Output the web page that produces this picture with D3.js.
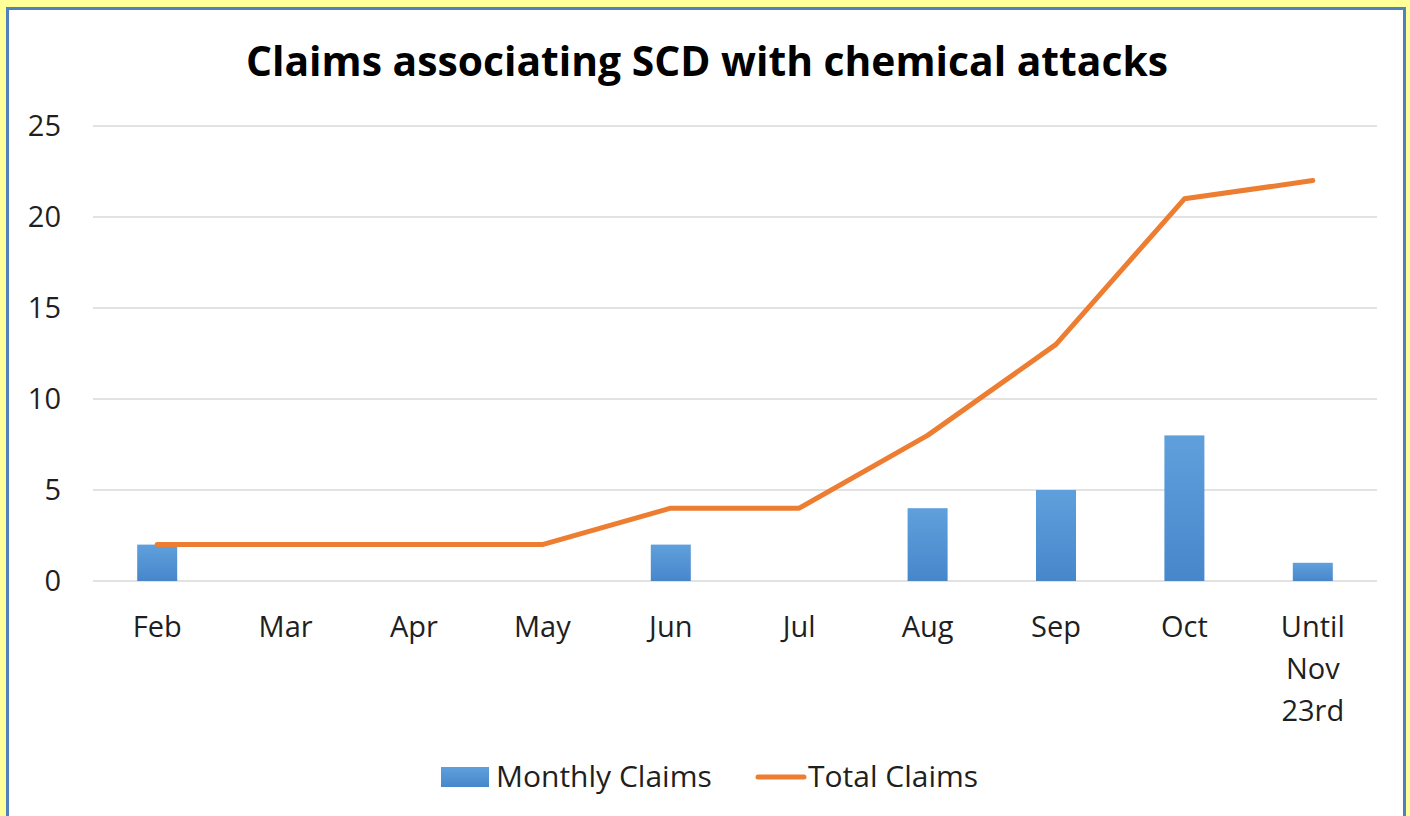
<!DOCTYPE html>
<html lang="en">
    <head>
        <meta charset="utf-8">
        <style>
            body { margin: 0; background: #ffff99; }
            .grid line { stroke: #d9d9d9; stroke-width: 1.5; }
            .axis text { font-family: "Open Sans", sans-serif; font-size: 29px; fill: #1f1f1f; }
        </style>
        <script src="https://d3js.org/d3.v7.min.js"></script>
    </head>
    <body>
        <svg width="1410" height="816"></svg>
        <script>
            // data
            var months = ["Feb", "Mar", "Apr", "May", "Jun", "Jul", "Aug", "Sep", "Oct", "Until Nov 23rd"];
            var monthlyClaims = [2, 0, 0, 0, 2, 0, 4, 5, 8, 1];
            var totalClaims = [2, 2, 2, 2, 4, 4, 8, 13, 21, 22];
            var yTicks = [0, 5, 10, 15, 20, 25];

            var svg = d3.select("svg");

            // white panel with blue frame
            svg.append("rect")
                .attr("x", 7.5).attr("y", 8.5)
                .attr("width", 1397).attr("height", 820)
                .attr("fill", "#fff")
                .attr("stroke", "#4f81bd")
                .attr("stroke-width", 3);

            var x = d3.scaleBand()
                .domain(months)
                .range([93, 1377]);

            var y = d3.scaleLinear()
                .domain([0, 25])
                .range([581, 126]);

            // gridlines
            svg.append("g")
                .attr("class", "grid")
                .selectAll("line")
                .data(yTicks)
                .enter()
                .append("line")
                    .attr("x1", 93).attr("x2", 1377)
                    .attr("y1", function(d) { return y(d); })
                    .attr("y2", function(d) { return y(d); });

            // y labels
            svg.append("g")
                .attr("class", "axis")
                .selectAll("text")
                .data(yTicks)
                .enter()
                .append("text")
                    .attr("x", 61)
                    .attr("y", function(d) { return y(d); })
                    .attr("dy", "0.36em")
                    .attr("text-anchor", "end")
                    .text(function(d) { return d; });

            // x labels (wrapped like the original)
            var xl = svg.append("g")
                .attr("class", "axis")
                .selectAll("text")
                .data(months)
                .enter()
                .append("text")
                    .attr("text-anchor", "middle")
                    .attr("x", function(d) { return x(d) + x.bandwidth() / 2; })
                    .attr("y", 637);
            xl.each(function(d) {
                var words = d.split(" ");
                var t = d3.select(this);
                words.forEach(function(w, i) {
                    t.append("tspan")
                        .attr("x", x(d) + x.bandwidth() / 2)
                        .attr("dy", i == 0 ? 0 : 42)
                        .text(w);
                });
            });

            // gradient for the bars
            var grad = svg.append("defs").append("linearGradient")
                .attr("id", "barGrad")
                .attr("x1", 0).attr("y1", 0).attr("x2", 0).attr("y2", 1);
            grad.append("stop").attr("offset", "0%").attr("stop-color", "#5fa0dc");
            grad.append("stop").attr("offset", "100%").attr("stop-color", "#4886cb");

            var barW = 40;
            svg.append("g")
                .selectAll("rect")
                .data(monthlyClaims)
                .enter()
                .append("rect")
                    .attr("x", function(d, i) { return x(months[i]) + x.bandwidth() / 2 - barW / 2; })
                    .attr("y", function(d) { return y(d); })
                    .attr("width", barW)
                    .attr("height", function(d) { return y(0) - y(d); })
                    .attr("fill", "url(#barGrad)");

            // total line
            var line = d3.line()
                .x(function(d, i) { return x(months[i]) + x.bandwidth() / 2; })
                .y(function(d) { return y(d); });

            svg.append("path")
                .datum(totalClaims)
                .attr("d", line)
                .attr("fill", "none")
                .attr("stroke", "#ed7d31")
                .attr("stroke-width", 5)
                .attr("stroke-linecap", "round")
                .attr("stroke-linejoin", "round");

            // title
            svg.append("text")
                .attr("x", 707)
                .attr("y", 76)
                .attr("text-anchor", "middle")
                .attr("font-family", "Open Sans, sans-serif")
                .attr("font-weight", "bold")
                .attr("font-size", 41)
                .attr("fill", "#000")
                .attr("textLength", 922)
                .attr("lengthAdjust", "spacingAndGlyphs")
                .text("Claims associating SCD with chemical attacks");

            // legend
            var lg = svg.append("g").attr("class", "axis");
            lg.append("rect")
                .attr("x", 441).attr("y", 767)
                .attr("width", 48).attr("height", 20)
                .attr("fill", "url(#barGrad)");
            lg.append("text")
                .attr("x", 496).attr("y", 787)
                .style("font-size", "30px")
                .text("Monthly Claims");
            lg.append("line")
                .attr("x1", 758).attr("x2", 804)
                .attr("y1", 777).attr("y2", 777)
                .attr("stroke", "#ed7d31")
                .attr("stroke-width", 5)
                .attr("stroke-linecap", "round");
            lg.append("text")
                .attr("x", 808).attr("y", 787)
                .style("font-size", "30px")
                .text("Total Claims");
        </script>
    </body>
</html>
